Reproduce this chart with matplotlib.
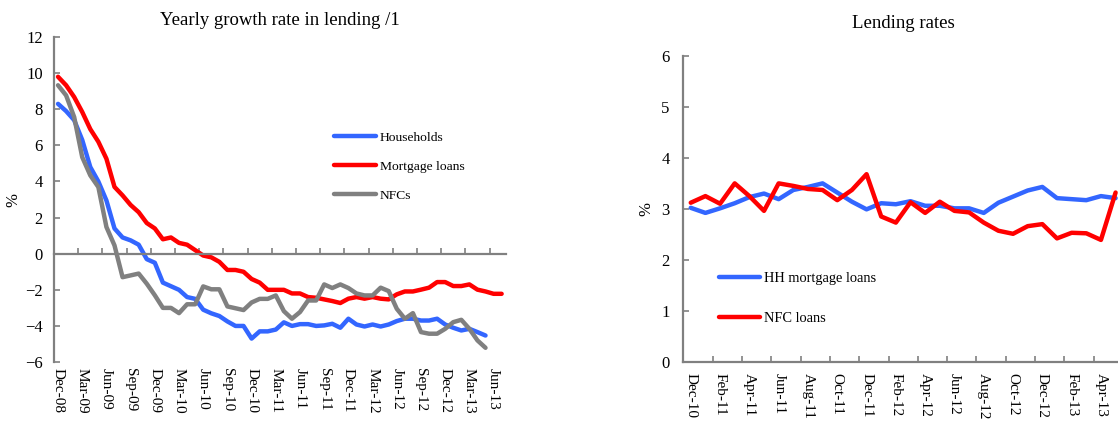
import matplotlib
matplotlib.use("Agg")
import matplotlib.pyplot as plt

plt.rcParams['font.family'] = ['Liberation Serif', 'DejaVu Serif']

# --- data: left chart (monthly, Dec-08 onwards) ---
households = [8.3, 7.9, 7.4, 6.3, 4.8, 4.0, 2.95, 1.4, 0.9, 0.74, 0.5, -0.3, -0.5, -1.6,
              -1.8, -2.0, -2.4, -2.5, -3.1, -3.3, -3.45, -3.75, -4.0, -4.0, -4.7, -4.3,
              -4.3, -4.2, -3.8, -4.0, -3.9, -3.9, -4.0, -3.97, -3.88, -4.1, -3.6, -3.92,
              -4.03, -3.92, -4.03, -3.92, -3.73, -3.6, -3.6, -3.7, -3.7, -3.6, -3.92,
              -4.1, -4.25, -4.16, -4.34, -4.53]
mortgage = [9.8, 9.33, 8.68, 7.85, 6.9, 6.2, 5.26, 3.7, 3.23, 2.7, 2.3, 1.7, 1.4, 0.8,
            0.9, 0.6, 0.5, 0.2, -0.1, -0.2, -0.45, -0.9, -0.9, -1.0, -1.4, -1.6, -2.0,
            -2.0, -2.0, -2.2, -2.2, -2.4, -2.44, -2.53, -2.62, -2.73, -2.49, -2.4,
            -2.49, -2.4, -2.49, -2.53, -2.25, -2.09, -2.09, -1.99, -1.88, -1.57,
            -1.57, -1.79, -1.79, -1.7, -1.99, -2.09, -2.22, -2.22]
nfcs = [9.33, 8.77, 7.57, 5.35, 4.34, 3.69, 1.48, 0.46, -1.3, -1.2, -1.1, -1.66, -2.3,
        -3.0, -3.0, -3.29, -2.8, -2.8, -1.81, -1.97, -1.97, -2.92, -3.02, -3.12, -2.7,
        -2.5, -2.5, -2.31, -3.18, -3.6, -3.23, -2.59, -2.59, -1.7, -1.9, -1.7, -1.9,
        -2.2, -2.31, -2.31, -1.88, -2.07, -3.05, -3.6, -3.29, -4.34, -4.43, -4.43,
        -4.16, -3.79, -3.66, -4.16, -4.8, -5.21]
left_labels = ["Dec-08", "Mar-09", "Jun-09", "Sep-09", "Dec-09", "Mar-10", "Jun-10",
               "Sep-10", "Dec-10", "Mar-11", "Jun-11", "Sep-11", "Dec-11", "Mar-12",
               "Jun-12", "Sep-12", "Dec-12", "Mar-13", "Jun-13"]

# --- data: right chart (monthly, Dec-10 onwards) ---
hh_mortgage = [3.02, 2.92, 3.01, 3.11, 3.23, 3.30, 3.19, 3.37, 3.43, 3.50, 3.32, 3.14,
               2.99, 3.11, 3.09, 3.15, 3.06, 3.06, 3.01, 3.01, 2.92, 3.12, 3.24, 3.36,
               3.43, 3.21, 3.19, 3.17, 3.25, 3.21]
nfc_loans = [3.12, 3.25, 3.10, 3.50, 3.25, 2.96, 3.50, 3.45, 3.39, 3.37, 3.17, 3.37,
             3.68, 2.85, 2.73, 3.13, 2.92, 3.14, 2.96, 2.93, 2.73, 2.57, 2.51, 2.66,
             2.70, 2.42, 2.53, 2.52, 2.39, 3.32]
right_labels = ["Dec-10", "Feb-11", "Apr-11", "Jun-11", "Aug-11", "Oct-11", "Dec-11",
                "Feb-12", "Apr-12", "Jun-12", "Aug-12", "Oct-12", "Dec-12", "Feb-13",
                "Apr-13"]

BLUE = '#3366FF'
RED = '#FF0000'
GRAY = '#808080'
AX = '#808080'
lw = 3.2

fig = plt.figure(figsize=(11.18, 4.21), dpi=100)

# ---------------- left chart ----------------
ax1 = fig.add_axes([0.0483, 0.140, 0.404, 0.772])
kw = dict(lw=lw, solid_joinstyle='round', solid_capstyle='round')
ax1.plot(range(len(households)), households, color=BLUE, label="Households", **kw)
ax1.plot(range(len(mortgage)), mortgage, color=RED, label="Mortgage loans", **kw)
ax1.plot(range(len(nfcs)), nfcs, color=GRAY, label="NFCs", **kw)
ax1.set_xlim(-0.5, len(mortgage) - 0.5)
ax1.set_ylim(-6, 12)
ax1.set_yticks(range(-6, 13, 2))
ax1.spines['top'].set_visible(False)
ax1.spines['right'].set_visible(False)
ax1.spines['bottom'].set_position(('data', 0))
for s in ['left', 'bottom']:
    ax1.spines[s].set_color(AX)
    ax1.spines[s].set_linewidth(1.6)
ax1.set_xticks([3 * k - 0.5 for k in range(1, 19)])
ax1.tick_params(axis='x', direction='in', length=4, width=1.2, color=AX, labelbottom=False)
ax1.tick_params(axis='y', direction='in', length=4, width=1.2, color=AX, labelsize=12, pad=8)
for k, lab in enumerate(left_labels):
    ax1.text(3 * k, -0.018, lab, transform=ax1.get_xaxis_transform(), rotation=-90,
             ha='center', va='top', fontsize=11)
ax1.set_title("Yearly growth rate in lending /1", fontsize=13.5, pad=9)
ax1.set_ylabel("%", fontsize=12)
ax1.yaxis.set_label_coords(-0.073, 0.5)
ax1.legend(loc='upper left', bbox_to_anchor=(0.593, 0.748), frameon=False, fontsize=9.7,
           handlelength=3.1, handletextpad=0.3, labelspacing=1.25)

# ---------------- right chart ----------------
ax2 = fig.add_axes([0.6113, 0.1409, 0.3931, 0.7261])
ax2.plot(range(len(hh_mortgage)), hh_mortgage, color=BLUE, label="HH mortgage loans", **kw)
ax2.plot(range(len(nfc_loans)), nfc_loans, color=RED, label="NFC loans", **kw)
ax2.set_xlim(-0.5, len(hh_mortgage) - 0.5)
ax2.set_ylim(0, 6)
ax2.set_yticks(range(0, 7))
ax2.spines['top'].set_visible(False)
ax2.spines['right'].set_visible(False)
for s in ['left', 'bottom']:
    ax2.spines[s].set_color(AX)
    ax2.spines[s].set_linewidth(1.6)
ax2.set_xticks(range(0, len(hh_mortgage), 2))
ax2.set_xticklabels(right_labels, rotation=-90, fontsize=11)
ax2.set_xticks([2 * k + 1.5 for k in range(0, 14)], minor=True)
ax2.tick_params(axis='x', which='major', length=0, pad=8)
ax2.tick_params(axis='x', which='minor', direction='in', length=4, width=1.2, color=AX)
ax2.tick_params(axis='y', direction='in', length=4, width=1.2, color=AX, labelsize=12, pad=10)
ax2.set_title("Lending rates", fontsize=13.5, pad=20)
ax2.set_ylabel("%", fontsize=12)
ax2.yaxis.set_label_coords(-0.065, 0.5)
ax2.legend(loc='upper left', bbox_to_anchor=(0.051, 0.337), frameon=False, fontsize=10.4,
           handlelength=2.85, handletextpad=0.3, labelspacing=1.9)

fig.savefig("out.png", dpi=100)
